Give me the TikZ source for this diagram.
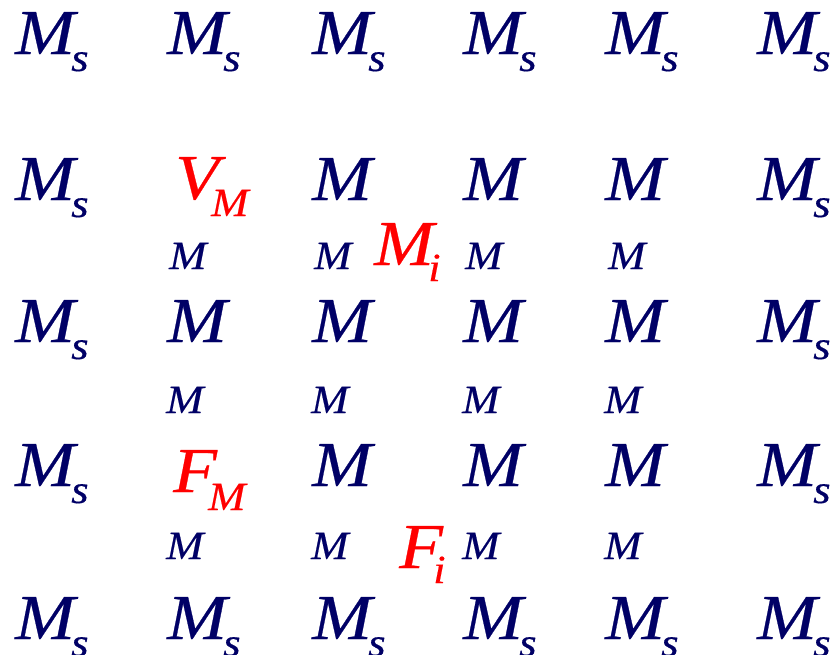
\documentclass[tikz,border=0pt]{standalone}
\usepackage{fontspec}
\setmainfont{Liberation Serif}
\newfontfamily\atomfont{Liberation Serif}[FakeStretch=1.12, FakeBold=0.4]
\usepackage{tikz}
\usetikzlibrary{positioning}
\definecolor{atomnavy}{HTML}{000066}
\definecolor{defectred}{HTML}{FF0000}

\begin{document}
\begin{tikzpicture}[
  x=1pt, y=-1pt,
  big/.style={anchor=base west, inner sep=0pt, text=atomnavy,
    font=\atomfont\fontsize{64}{64}\selectfont\itshape},
  small/.style={big, font=\atomfont\fontsize{40}{40}\selectfont\itshape},
  defect/.style={text=defectred}
]
  \useasboundingbox (0,0) rectangle (835,654);
  % Surface atoms, top and bottom rows
  \foreach \x [count=\c from 0] in {15,167,312,463,605,757} {
    \foreach \y/\r in {54/0,639/4} {
      \node[big] (m\r\c) at (\x,\y) {M};
      \node[small] (s\r\c) at (\x+56,\y+17) {s};
    }
  }
  % Surface atoms, left and right columns
  \foreach \y [count=\r from 1] in {200,342,486} {
    \foreach \x/\c in {15/0,757/5} {
      \node[big] (m\r\c) at (\x,\y) {M};
      \node[small] (s\r\c) at (\x+56,\y+17) {s};
    }
  }
  % Bulk atoms
  \foreach \x/\c in {312/2,463/3,605/4} {
    \node[big] (m1\c) at (\x,200) {M};
    \node[big] (m3\c) at (\x,486) {M};
  }
  \foreach \x [count=\c from 1] in {167,312,463,605} {
    \node[big] (m2\c) at (\x,342) {M};
  }
  % Interstitial sites
  \foreach \x [count=\c from 1] in {169,314,465,608} {
    \node[small] (i1\c) at (\x,269) {M};
  }
  \foreach \x [count=\c from 1] in {166,311,462,604} {
    \node[small] (i2\c) at (\x,413) {M};
    \node[small] (i3\c) at (\x,559) {M};
  }
  % Defects
  \node[big, defect] (vm) at (175,199) {V};
  \node[small, defect] (vm-sub) at (211,216) {M};
  \node[big, defect] (mi) at (374,265) {M};
  \node[small, defect] (mi-sub) at (428,281) {i};
  \node[big, defect] (fm) at (173,492) {F};
  \node[small, defect] (fm-sub) at (208,510) {M};
  \node[big, defect] (fi) at (399,568) {F};
  \node[small, defect] (fi-sub) at (433,583) {i};
\end{tikzpicture}
\end{document}
